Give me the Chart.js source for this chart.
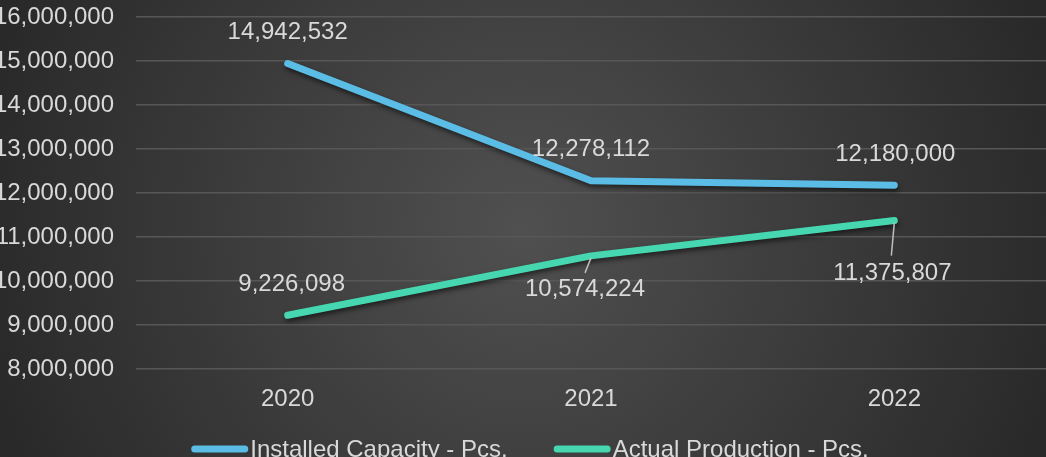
<!DOCTYPE html>
<html>
<head>
<meta charset="utf-8">
<script src="https://cdn.jsdelivr.net/npm/chart.js@4.4.0/dist/chart.umd.min.js"></script>
<style>
  html, body { margin: 0; padding: 0; background: #2a2a2a; overflow: hidden; }
  #chart { display: block; }
</style>
</head>
<body>
<canvas id="chart" width="1046" height="457"></canvas>
<script>
// data
const years = ['2020', '2021', '2022'];
const installed = [14942532, 12278112, 12180000];
const production = [9226098, 10574224, 11375807];
const yMin = 8000000, yMax = 16000000, yStep = 1000000;

const fmt = v => v.toLocaleString('en-US');
const FONT = 'Liberation Sans, Arial, sans-serif';

// dark radial backdrop
const bgPlugin = {
  id: 'bg',
  beforeDraw(chart) {
    const c = chart.ctx, w = chart.width, h = chart.height;
    const g = c.createRadialGradient(w / 2, h / 2, 0, w / 2, h / 2, 600);
    g.addColorStop(0, '#505050');
    g.addColorStop(1, '#262626');
    c.save();
    c.fillStyle = g;
    c.fillRect(0, 0, w, h);
    c.restore();
  }
};

// soft shadow under lines
const shadowPlugin = {
  id: 'lineShadow',
  beforeDatasetDraw(chart) {
    const c = chart.ctx;
    c.save();
    c.shadowColor = 'rgba(0,0,0,0.55)';
    c.shadowBlur = 5;
    c.shadowOffsetX = 1;
    c.shadowOffsetY = 3;
  },
  afterDatasetDraw(chart) {
    chart.ctx.restore();
  }
};

// value labels, with leader line when pushed off the point
const labelPlugin = {
  id: 'valueLabels',
  afterDatasetsDraw(chart, args, opts) {
    const c = chart.ctx;
    c.save();
    c.font = '24px ' + FONT;
    c.textAlign = 'center';
    c.textBaseline = 'middle';
    chart.data.datasets.forEach((ds, di) => {
      const meta = chart.getDatasetMeta(di);
      const offs = opts.offsets[di];
      meta.data.forEach((pt, i) => {
        const o = offs[i];
        const lx = pt.x + o[0], ly = pt.y + o[1];
        if (o[2]) {
          c.strokeStyle = '#bdbdbd';
          c.lineWidth = 1.5;
          c.beginPath();
          c.moveTo(pt.x, pt.y + 2);
          c.lineTo(pt.x + o[2][0], pt.y + o[2][1]);
          c.stroke();
        }
        c.fillStyle = '#d9d9d9';
        c.fillText(fmt(ds.data[i]), lx, ly);
      });
    });
    c.restore();
  }
};

// legend drawn by hand: swatch glued to text
const legendPlugin = {
  id: 'flatLegend',
  afterDraw(chart) {
    const c = chart.ctx;
    const sw = 57, gap = 2, space = 46;
    c.save();
    c.font = '24px ' + FONT;
    c.textBaseline = 'middle';
    const items = chart.data.datasets.map(ds => ({
      ds, w: sw + gap + c.measureText(ds.label).width
    }));
    let total = items.reduce((s, it) => s + it.w, 0) + space * (items.length - 1);
    let x = 530 - total / 2;
    const y = 450;
    items.forEach(it => {
      c.strokeStyle = it.ds.borderColor;
      c.lineWidth = 7;
      c.lineCap = 'round';
      c.beginPath();
      c.moveTo(x + 3.5, y - 1);
      c.lineTo(x + sw - 3.5, y - 1);
      c.stroke();
      c.fillStyle = '#d9d9d9';
      c.fillText(it.ds.label, x + sw + gap, y);
      x += it.w + space;
    });
    c.restore();
  }
};

new Chart(document.getElementById('chart'), {
  type: 'line',
  data: {
    labels: years,
    datasets: [{
      label: 'Installed Capacity - Pcs.',
      data: installed,
      borderColor: '#5bbde5',
      borderWidth: 7,
      borderCapStyle: 'round',
      borderJoinStyle: 'round',
      pointRadius: 0,
      tension: 0
    }, {
      label: 'Actual Production - Pcs.',
      data: production,
      borderColor: '#46d7b0',
      borderWidth: 7,
      borderCapStyle: 'round',
      borderJoinStyle: 'round',
      pointRadius: 0,
      tension: 0
    }]
  },
  options: {
    responsive: false,
    devicePixelRatio: 1,
    animation: false,
    layout: { padding: { top: 17, right: 0, bottom: 35, left: 0 } },
    plugins: {
      legend: { display: false },
      tooltip: { enabled: false },
      valueLabels: {
        offsets: [
          [[0, -31], [0, -31], [1, -31]],
          [[4, -31], [-6, 34, [-6, 17]], [-2, 53, [-3, 35]]]
        ]
      }
    },
    scales: {
      x: {
        offset: true,
        grid: { display: false },
        border: { display: false },
        ticks: { color: '#d9d9d9', font: { size: 24, family: FONT }, padding: 8 }
      },
      y: {
        min: yMin,
        max: yMax,
        afterFit(s) { s.width = 136; },
        grid: { color: '#575757', lineWidth: 1.5, tickLength: 22, tickColor: 'rgba(0,0,0,0)' },
        border: { display: false },
        ticks: {
          stepSize: yStep,
          color: '#d9d9d9',
          padding: 0,
          font: { size: 24, family: FONT },
          callback: v => fmt(v)
        }
      }
    }
  },
  plugins: [bgPlugin, shadowPlugin, labelPlugin, legendPlugin]
});
</script>
</body>
</html>
